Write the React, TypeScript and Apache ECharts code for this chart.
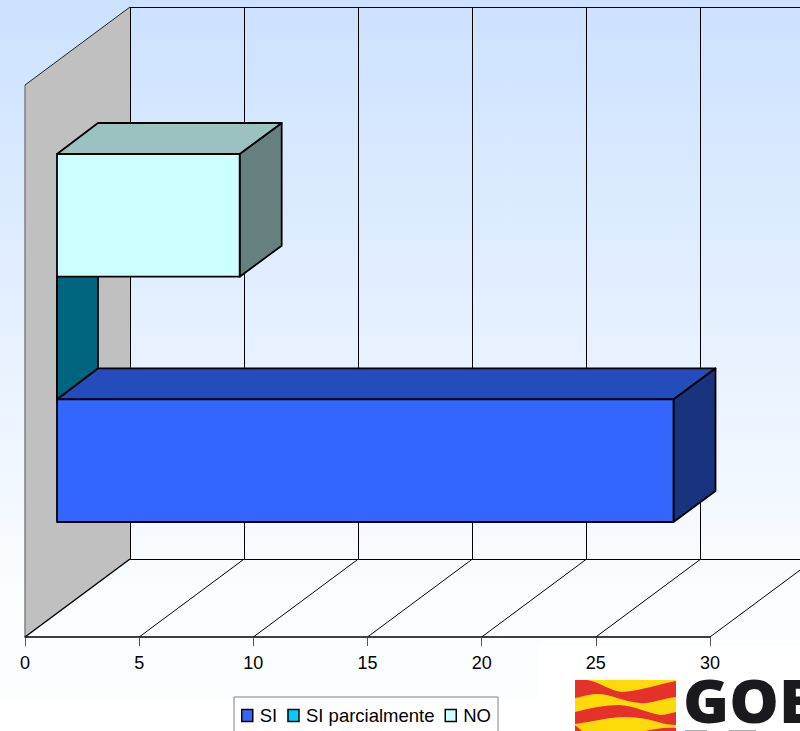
import React, { useEffect, useRef } from "react";
import * as echarts from "echarts";

const categories = ["Respuesta"];
const seriesNames = ["SI", "SI parcialmente", "NO"];
const siValues = [27];
const parcialValues = [0];
const noValues = [8];
const axisTicks = [0, 5, 10, 15, 20, 25, 30];

const FONT = '"Liberation Sans", Arial, sans-serif';
const WALL_DX = 105;
const WALL_DY = -78;
const BAR_DX = 32;
const BAR_DY = -23;
const DEPTH_DX_LEFT = 41;
const DEPTH_DX = 42;
const DEPTH_DY = -31;
const BAR_RATIO = 1 / 4.5;

const faces = [
  { front: "#3366FF", top: "#254CBC", side: "#1A337F" },
  { front: "#00CCFF", top: "#0099BF", side: "#006680" },
  { front: "#CCFFFF", top: "#9CC2C0", side: "#668080" },
];

function bar3d(slot: number) {
  return (params: any, api: any) => {
    const value = api.value(0);
    const band = api.size([0, 1])[1];
    const barH = band * BAR_RATIO;
    const origin = api.coord([0, 0]);
    const end = api.coord([value, 0]);
    const x0 = origin[0] + BAR_DX;
    const x1 = end[0] + BAR_DX;
    const yBottom = origin[1] + BAR_DY + barH * 1.5 - barH * slot;
    const yTop = yBottom - barH;
    const line = { stroke: "#000", lineWidth: 1.8, lineJoin: "round" };
    const c = faces[slot];
    const xBackEnd = value === 0 ? x0 + DEPTH_DX_LEFT : x1 + DEPTH_DX;
    const poly = (points: number[][], fill: string) => ({
      type: "polygon",
      shape: { points },
      style: { fill, ...line },
    });
    return {
      type: "group",
      children: [
        poly(
          [
            [x1, yTop],
            [xBackEnd, yTop + DEPTH_DY],
            [xBackEnd, yBottom + DEPTH_DY],
            [x1, yBottom],
          ],
          c.side,
        ),
        poly(
          [
            [x0, yTop],
            [x0 + DEPTH_DX_LEFT, yTop + DEPTH_DY],
            [xBackEnd, yTop + DEPTH_DY],
            [x1, yTop],
          ],
          c.top,
        ),
        poly(
          [
            [x0, yTop],
            [x1, yTop],
            [x1, yBottom],
            [x0, yBottom],
          ],
          c.front,
        ),
      ],
    };
  };
}

function frame(params: any, api: any) {
  const band = api.size([0, 1])[1];
  const o = api.coord([0, 0]);
  const yFront = o[1] + band / 2;
  const yFrontTop = o[1] - band / 2;
  const xL = o[0];
  const seg = (x1: number, y1: number, x2: number, y2: number, stroke = "#000", lineWidth = 1) => ({
    type: "line",
    shape: { x1, y1, x2, y2 },
    style: { stroke, lineWidth },
  });
  const yBackTop = Math.round(yFrontTop + WALL_DY) + 0.5;
  const yBackBottom = Math.round(yFront + WALL_DY) + 0.5;
  const children: any[] = [
    {
      type: "polygon",
      shape: {
        points: [
          [xL, yFrontTop],
          [xL + WALL_DX, yFrontTop + WALL_DY],
          [xL + WALL_DX, yFront + WALL_DY],
          [xL, yFront],
        ],
      },
      style: { fill: "#C0C0C0" },
    },
    seg(xL, yFrontTop, xL, yFront, "#808080", 1.5),
    seg(xL, yFrontTop, xL + WALL_DX, yFrontTop + WALL_DY, "#222", 1),
    seg(xL, yFront, xL + WALL_DX, yFront + WALL_DY, "#000", 1.5),
    seg(xL + WALL_DX, yBackTop, 900, yBackTop, "#000", 1),
    seg(xL + WALL_DX, yBackBottom, 900, yBackBottom, "#000", 1),
  ];
  axisTicks.forEach((t) => {
    const x = api.coord([t, 0])[0];
    const xBack = Math.round(x + WALL_DX - 0.4) + 0.5;
    children.push(seg(xBack, yBackTop, xBack, yBackBottom, "#000", 1));
    if (t > 0) children.push(seg(x, yFront, x + WALL_DX, yFront + WALL_DY, "#000", 1));
  });
  return { type: "group", children };
}

const RED = "#E5302B";
const YELLOW = "#FFDA0A";
const band1 =
  "M575 680 L587 680 C600 682 610 691 622 692 C640 691 660 684 676 681 L676 697 C660 699 650 704 640 703 C625 702 610 694 598 694 C590 694 585 696 575 698 Z";
const band2 =
  "M575 712 C590 708 605 705 620 705 C635 706 648 713 660 715 C665 715 670 713 676 712 L676 725 C670 725 664 724 658 722 C645 718 635 717 620 717 C605 718 590 722 575 724 Z";
const band3 =
  "M575 725 L582 731 L575 731 Z M645 731 C655 729 665 727 676 728 L676 731 Z";

function App() {
  const ref = useRef<HTMLDivElement>(null);
  useEffect(() => {
    if (!ref.current) return;
    echarts.graphic.registerShape("logoBand1", echarts.graphic.extendPath(band1, {}));
    echarts.graphic.registerShape("logoBand2", echarts.graphic.extendPath(band2, {}));
    echarts.graphic.registerShape("logoBand3", echarts.graphic.extendPath(band3, {}));
    const chart = echarts.init(ref.current, undefined, { renderer: "svg" });
    const mk = (name: string, values: number[], slot: number) => ({
      name,
      type: "custom",
      coordinateSystem: "cartesian2d",
      clip: false,
      z: 3,
      itemStyle: { color: faces[slot].front },
      encode: { x: 0, y: 1 },
      data: values.map((v, i) => [v, i]),
      renderItem: bar3d(slot),
    });
    chart.setOption({
      animation: false,
      backgroundColor: {
        type: "linear",
        x: 0,
        y: 0,
        x2: 0,
        y2: 1,
        colorStops: [
          { offset: 0, color: "#CCE1FF" },
          { offset: 0.82, color: "#FBFDFF" },
          { offset: 0.953, color: "#FCFDFF" },
          { offset: 0.954, color: "#FFFFFF" },
          { offset: 1, color: "#FFFFFF" },
        ],
      },
      grid: { left: 25, top: 85, width: 685, height: 552, containLabel: false },
      xAxis: {
        type: "value",
        min: 0,
        max: 30,
        interval: 5,
        splitLine: { show: false },
        axisLine: { show: true, onZero: false, lineStyle: { color: "#000", width: 1.5 } },
        axisTick: { show: true, length: 9, lineStyle: { color: "#555", width: 1 } },
        axisLabel: { fontFamily: FONT, fontSize: 18, color: "#000", margin: 17 },
      },
      yAxis: {
        type: "category",
        data: categories,
        axisLine: { show: false },
        axisTick: { show: false },
        axisLabel: { show: false },
        splitLine: { show: false },
      },
      legend: {
        left: 234,
        top: 697,
        orient: "horizontal",
        selectedMode: false,
        backgroundColor: "#fff",
        borderColor: "#808080",
        borderWidth: 1,
        padding: [9, 7, 20, 7],
        itemWidth: 11,
        itemHeight: 12,
        itemGap: 10,
        textStyle: { fontFamily: FONT, fontSize: 18.5, color: "#000", padding: [0, 0, 0, 2] },
        data: seriesNames.map((name, i) => ({
          name,
          icon: "rect",
          itemStyle: { color: faces[i].front, borderColor: "#000", borderWidth: 1.5 },
        })),
      },
      graphic: [
        {
          type: "group",
          z: 1,
          silent: true,
          children: [
            { type: "rect", shape: { x: 538, y: 645, width: 262, height: 86 }, style: { fill: "#fff" } },
            { type: "rect", shape: { x: 575, y: 680, width: 101, height: 51 }, style: { fill: YELLOW } },
            { type: "logoBand1", x: 0, y: 0, style: { fill: RED } },
            { type: "logoBand2", x: 0, y: 0, style: { fill: RED } },
            { type: "logoBand3", x: 0, y: 0, style: { fill: RED } },
            {
              type: "text",
              x: 683,
              y: 677,
              scaleX: 1.04,
              style: {
                text: "GOB",
                fontFamily: '"Open Sans", sans-serif',
                fontWeight: 800,
                fontSize: 60,
                lineHeight: 46,
                fill: "#1A1A1E",
              },
            },
            { type: "rect", shape: { x: 685, y: 730, width: 22, height: 1 }, style: { fill: "#aaa" } },
            { type: "rect", shape: { x: 729, y: 730, width: 27, height: 1 }, style: { fill: "#aaa" } },
          ],
        },
      ],
      series: [
        {
          name: "frame",
          type: "custom",
          coordinateSystem: "cartesian2d",
          clip: false,
          z: 2,
          encode: { x: 0, y: 1 },
          data: [[0, 0]],
          renderItem: frame,
        },
        mk(seriesNames[0], siValues, 0),
        mk(seriesNames[1], parcialValues, 1),
        mk(seriesNames[2], noValues, 2),
      ],
    });
    return () => chart.dispose();
  }, []);
  return <div ref={ref} style={{ position: "fixed", left: 0, top: 0, width: 800, height: 731 }} />;
}

export default App;
